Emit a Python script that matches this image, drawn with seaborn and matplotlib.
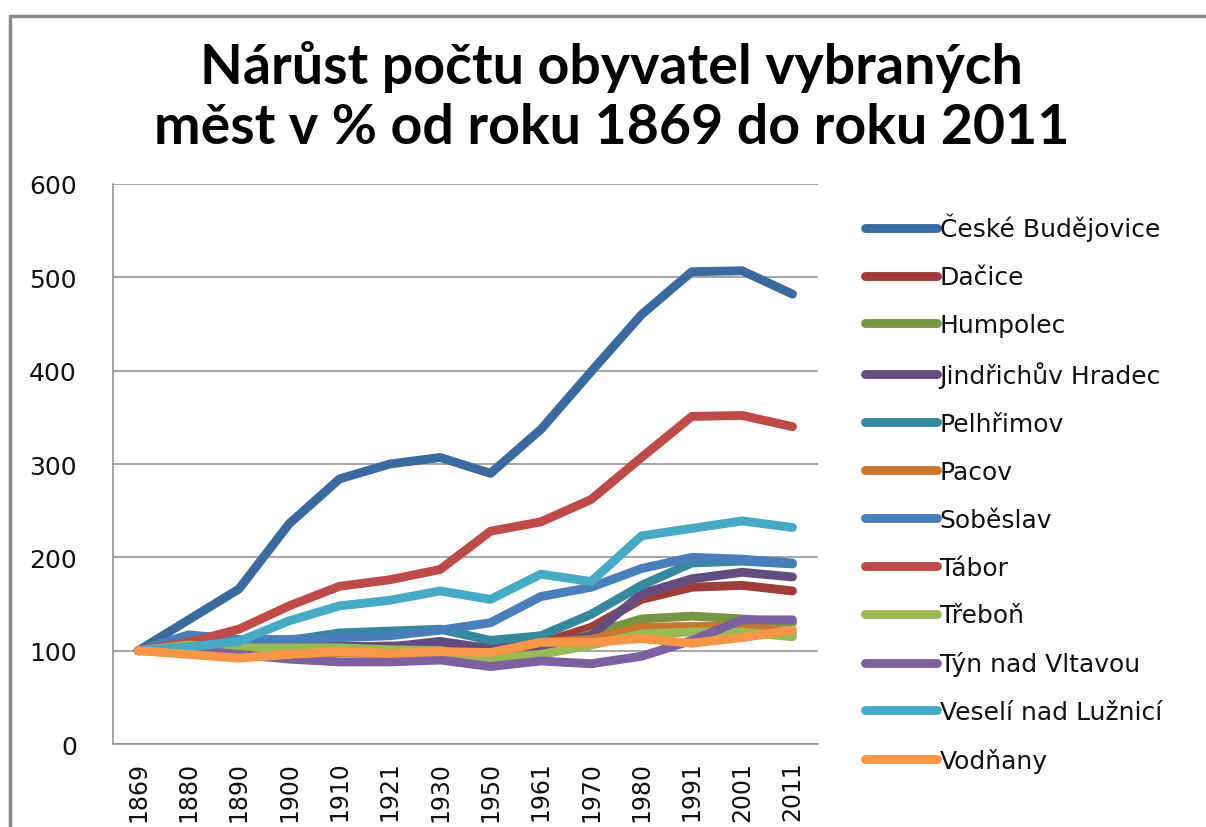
import pandas as pd
import matplotlib.pyplot as plt
import seaborn as sns
from matplotlib.patches import Rectangle

# roky scitani
roky = ['1869', '1880', '1890', '1900', '1910', '1921', '1930',
        '1950', '1961', '1970', '1980', '1991', '2001', '2011']

# narust v % (1869 = 100)
ceske_budejovice = [100, 133, 166, 236, 284, 300, 307, 290, 337, 399, 460, 506, 507, 482]
dacice = [100, 103, 101, 102, 104, 105, 104, 104, 108, 125, 155, 168, 170, 164]
humpolec = [100, 110, 104, 104, 104, 102, 101, 93, 100, 118, 134, 137, 134, 130]
jindrichuv_hradec = [100, 106, 100, 103, 105, 104, 110, 102, 105, 116, 161, 177, 184, 179]
pelhrimov = [100, 104, 109, 111, 119, 121, 123, 111, 116, 139, 170, 194, 196, 193]
pacov = [100, 99, 95, 96, 98, 97, 96, 96, 109, 112, 125, 126, 126, 120]
sobeslav = [100, 117, 112, 112, 114, 116, 122, 130, 158, 168, 188, 200, 198, 194]
tabor = [100, 109, 123, 148, 169, 176, 187, 228, 238, 262, 307, 351, 352, 340]
trebon = [100, 106, 103, 103, 103, 101, 100, 91, 96, 106, 118, 120, 120, 115]
tyn_nad_vltavou = [100, 101, 96, 91, 88, 88, 90, 83, 89, 86, 94, 111, 133, 133]
veseli_nad_luznici = [100, 104, 110, 132, 148, 154, 164, 155, 182, 174, 223, 231, 239, 232]
vodnany = [100, 96, 92, 96, 99, 97, 99, 98, 109, 109, 113, 108, 114, 122]

mesta = ['České Budějovice', 'Dačice', 'Humpolec', 'Jindřichův Hradec',
         'Pelhřimov', 'Pacov', 'Soběslav', 'Tábor', 'Třeboň',
         'Týn nad Vltavou', 'Veselí nad Lužnicí', 'Vodňany']
hodnoty = [ceske_budejovice, dacice, humpolec, jindrichuv_hradec, pelhrimov,
           pacov, sobeslav, tabor, trebon, tyn_nad_vltavou,
           veseli_nad_luznici, vodnany]
barvy = ['#3B6A9F', '#9E3D3A', '#789641', '#634D80', '#35889E', '#C9772F',
         '#4A7EBB', '#BE4B48', '#98B954', '#7D60A0', '#46AAC5', '#F79646']

rows = []
for mesto, vals in zip(mesta, hodnoty):
    for rok, v in zip(roky, vals):
        rows.append({'rok': rok, 'mesto': mesto, 'narust': v})
df = pd.DataFrame(rows)

sns.set_style('white')
plt.rcParams['font.family'] = ['DejaVu Sans']

fig = plt.figure(figsize=(12.06, 8.28), dpi=100)
ax = fig.add_axes([0.0937, 0.1002, 0.5843, 0.6764])

sns.lineplot(data=df, x='rok', y='narust', hue='mesto', hue_order=mesta,
             palette=barvy, linewidth=6.4, sort=False, ax=ax,
             solid_capstyle='round', solid_joinstyle='round')

ax.set_xlim(-0.5, len(roky) - 0.5)
ax.set_ylim(0, 600)
ax.set_yticks(range(0, 601, 100))
ax.grid(axis='y', color='#8C8C8C', linewidth=1.1)
ax.grid(axis='x', visible=False)
ax.set_axisbelow(True)
for s in ['top', 'right']:
    ax.spines[s].set_visible(False)
for s in ['left', 'bottom']:
    ax.spines[s].set_color('#8C8C8C')
    ax.spines[s].set_linewidth(1.1)
ax.set_xlabel('')
ax.set_ylabel('')
ax.tick_params(axis='y', length=0, pad=26, labelsize=18, labelcolor='#111111')
ax.tick_params(axis='x', length=0, pad=12, labelsize=17, labelcolor='#111111',
               labelrotation=90)

handles, labels = ax.get_legend_handles_labels()
ax.get_legend().remove()
leg = fig.legend(handles, labels, loc='center left',
                 bbox_to_anchor=(0.717, 1 - 494 / 828), frameon=False,
                 fontsize=18, handlelength=2.9, handletextpad=0.1,
                 labelspacing=0.955, borderpad=0, borderaxespad=0)
for h in leg.get_lines():
    h.set_linewidth(6.4)
for t in leg.get_texts():
    t.set_color('#111111')

fig.text(0.507, 1 - 97 / 828,
         'Nárůst počtu obyvatel vybraných\nměst v % od roku 1869 do roku 2011',
         ha='center', va='center', fontsize=40, fontweight='bold',
         color='black', family=['Lato', 'DejaVu Sans'], linespacing=1.24)

# ramecek grafu
fig.patches.append(Rectangle((10 / 1206, -0.1), 1.2, 1 - 17 / 828 + 0.1,
                             transform=fig.transFigure, fill=False,
                             edgecolor='#8A8A8A', linewidth=2.5))

fig.savefig('out.png', dpi=100)
